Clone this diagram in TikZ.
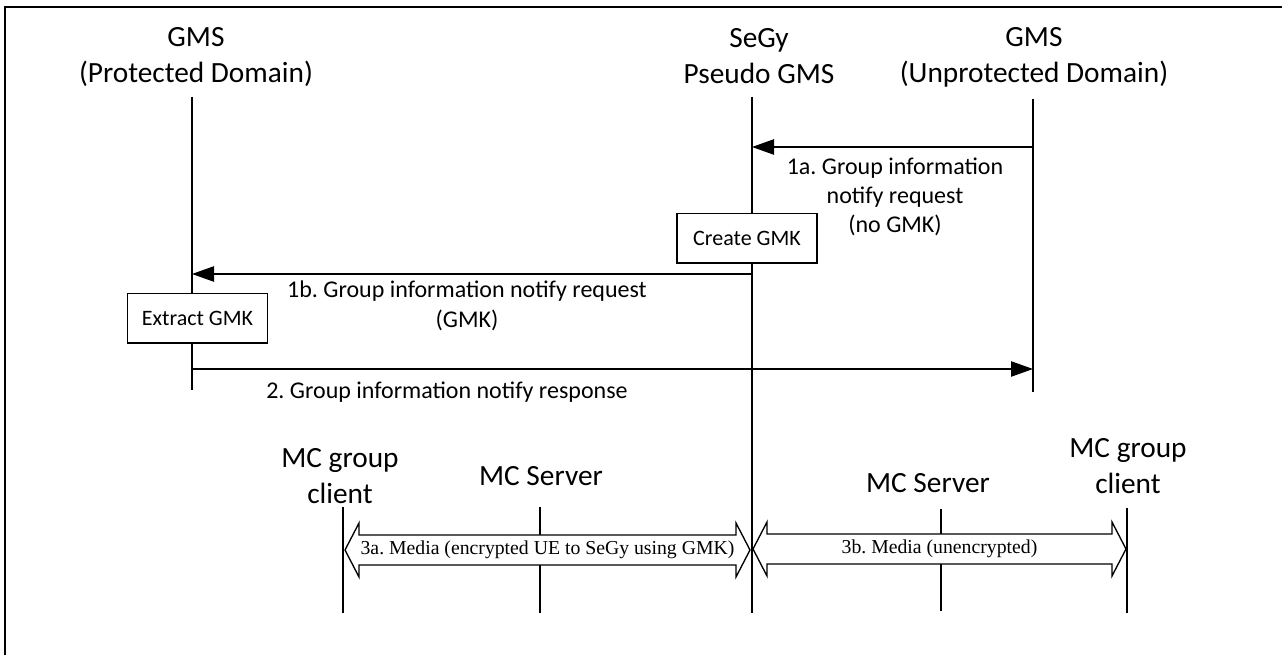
\documentclass[tikz,border=0pt]{standalone}
\usepackage{fontspec}
\setmainfont{Carlito}
\newfontfamily\timesfont{Liberation Serif}
\usetikzlibrary{arrows.meta,positioning,calc}
\frenchspacing
\tikzset{
  frameln/.style={line width=1.5pt},
  lifeln/.style={line width=1pt},
  msgln/.style={-{Triangle[length=16.5pt,width=11.5pt]}, line width=1pt},
  actor/.style={align=center, inner sep=0pt, font=\fontsize{22}{27}\selectfont},
  msglbl/.style={align=center, inner sep=0pt, font=\fontsize{18}{22}\selectfont},
  actbox/.style={draw, fill=white, line width=1pt, minimum width=105pt,
    minimum height=37pt, inner sep=0pt, font=\fontsize{16.5}{20}\selectfont},
  medialn/.style={line width=1pt, fill=white},
  medialbl/.style={inner sep=0pt, font=\timesfont\fontsize{14.8}{18}\selectfont},
}
\newcommand{\mediaarrow}[2]{%
  \draw[medialn] (#1) -- ++(14,-27) -- ++(0,12) -- ($(#2)+(-14,-15)$)
    -- ++(0,-12) -- (#2) -- ++(-14,27) -- ++(0,-12) -- ($(#1)+(14,15)$)
    -- ++(0,12) -- cycle;
}

\begin{document}
\begin{tikzpicture}[x=0.75pt, y=-0.75pt]
  \useasboundingbox (0,0) rectangle (1282,655);
  \draw[frameln] (5,655) -- (5,7) -- (1282,7);
  % the three domains
  \node[actor] (gp) at (196,57) {GMS\\(Protected Domain)};
  \node[actor] (sg) at (759,56) {SeGy\\Pseudo GMS};
  \node[actor] (gu) at (1034,57) {GMS\\(Unprotected Domain)};
  \coordinate (gp-top) at (192,97);  \coordinate (gp-bot) at (192,390);
  \coordinate (sg-top) at (752,97);  \coordinate (sg-bot) at (752,613);
  \coordinate (gu-top) at (1033,99); \coordinate (gu-bot) at (1033,392);
  \draw[lifeln] (gp-top) -- (gp-bot);
  \draw[lifeln] (sg-top) -- (sg-bot);
  \draw[lifeln] (gu-top) -- (gu-bot);
  % messages
  \coordinate (r1a) at (0,147);
  \coordinate (r1b) at (0,274);
  \coordinate (r2) at (0,369);
  \draw[msgln] (gu-top |- r1a) -- (sg-top |- r1a);
  \draw[msgln] (sg-top |- r1b) -- (gp-top |- r1b);
  \draw[msgln] (gp-top |- r2) -- (gu-top |- r2);
  \node[msglbl] (l1a) at (895,197) {1a. Group information\\notify request\\(no GMK)};
  \node[msglbl] (l1b) at (467,306) {1b. Group information notify request\\(GMK)};
  \node[msglbl] (l2) at (447,392) {2. Group information notify response};
  \node[actbox] (mkgmk) at (747,238.5) {Create GMK};
  \node[actbox] (exgmk) at (197.5,318.5) {Extract GMK};
  % media plane
  \node[actor] (cl) at (340,476) {MC group\\client};
  \node[actor] (ms) at (541,476) {MC Server};
  \node[actor] (msr) at (928,483) {MC Server};
  \node[actor] (clr) at (1128,466) {MC group\\client};
  \coordinate (cl-top) at (343,507);  \coordinate (cl-bot) at (343,613);
  \coordinate (ms-top) at (540,507);  \coordinate (ms-bot) at (540,613);
  \coordinate (msr-top) at (941,509); \coordinate (msr-bot) at (941,611);
  \coordinate (clr-top) at (1127,508); \coordinate (clr-bot) at (1127,613);
  \draw[lifeln] (cl-top) -- (cl-bot);
  \draw[lifeln] (ms-top) -- (ms-bot);
  \draw[lifeln] (msr-top) -- (msr-bot);
  \draw[lifeln] (clr-top) -- (clr-bot);
  \coordinate (m3a-l) at (345,550); \coordinate (m3a-r) at (750,550);
  \coordinate (m3b-l) at (753,549); \coordinate (m3b-r) at (1126,549);
  \mediaarrow{m3a-l}{m3a-r}
  \mediaarrow{m3b-l}{m3b-r}
  \node[medialbl] (l3a) at ($(m3a-l)!0.5!(m3a-r)$) {3a. Media (encrypted UE to SeGy using GMK)};
  \node[medialbl] (l3b) at ($(m3b-l)!0.5!(m3b-r)$) {3b. Media (unencrypted)};
\end{tikzpicture}
\end{document}
